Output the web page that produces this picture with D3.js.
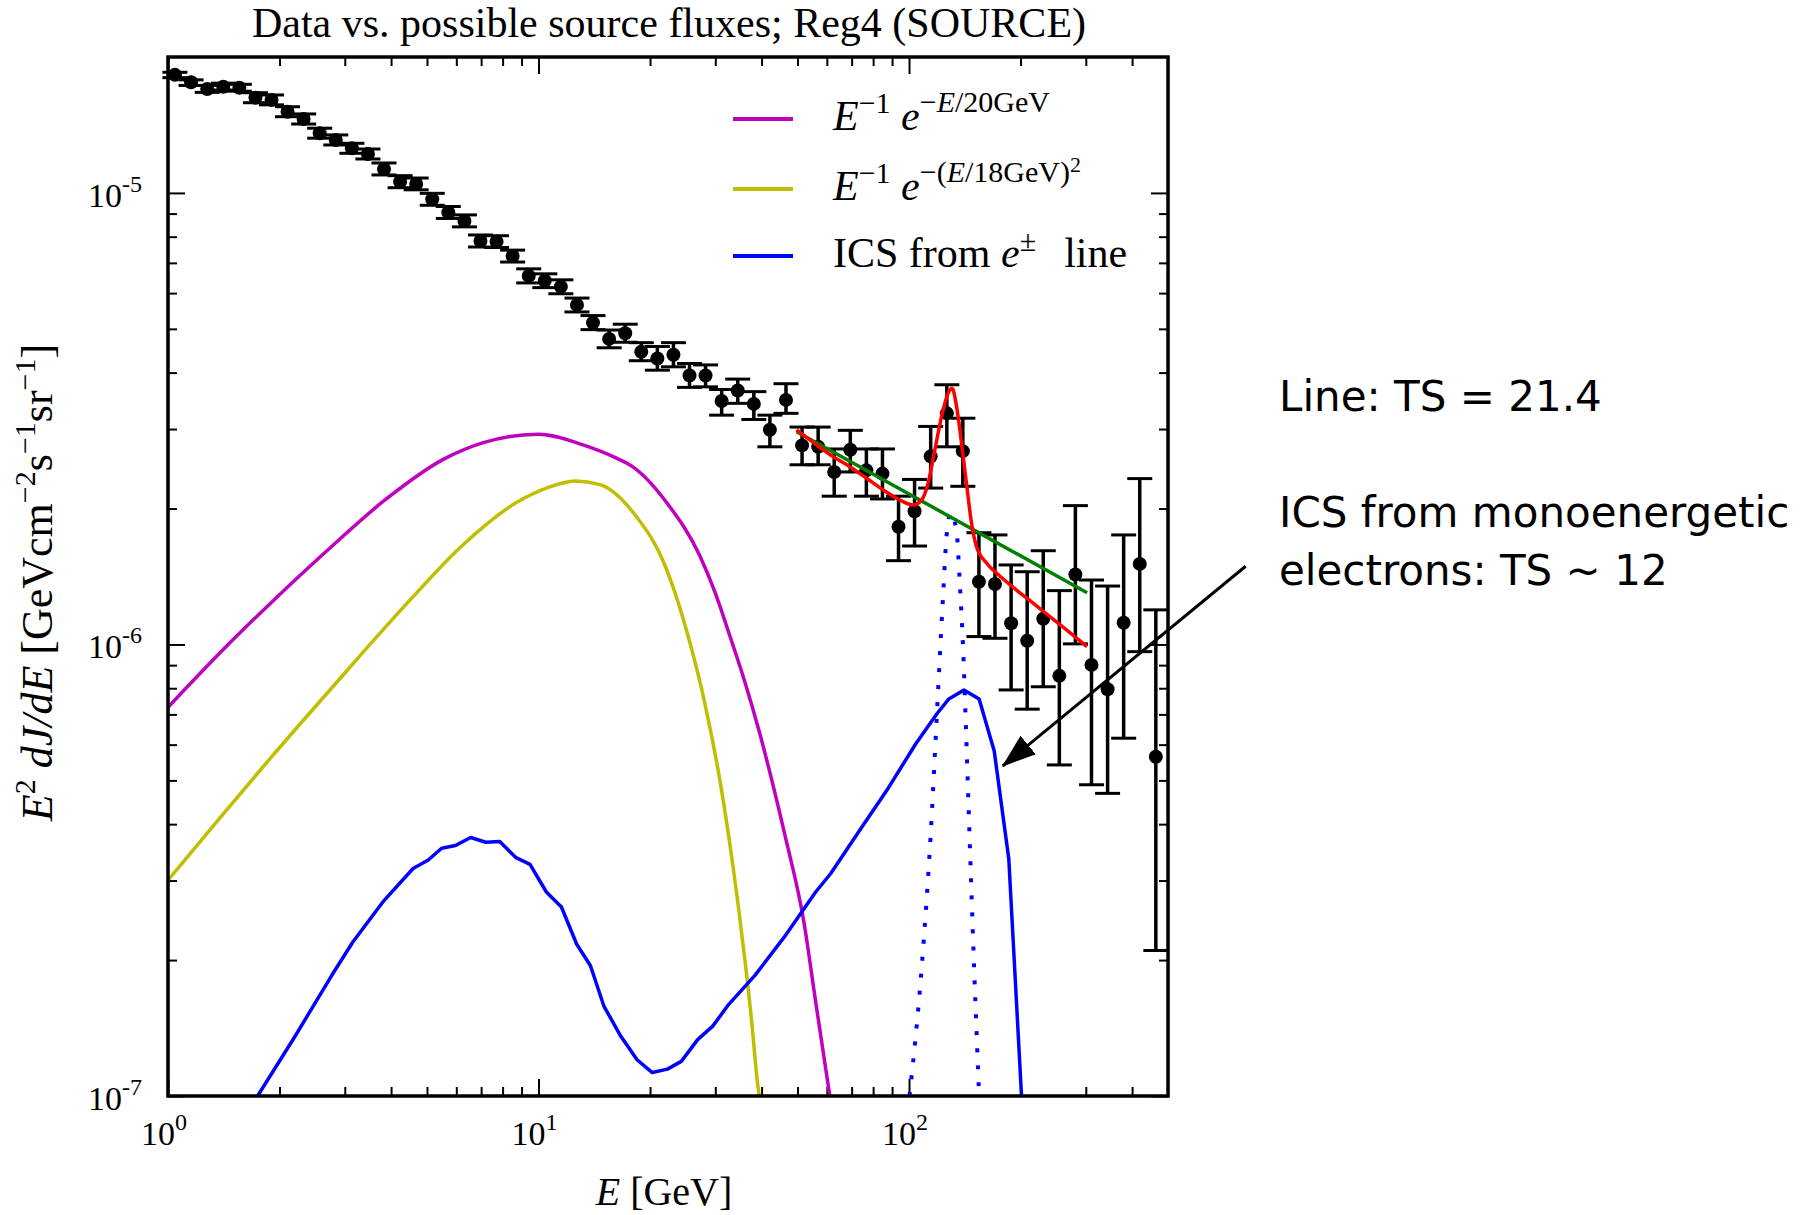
<!DOCTYPE html>
<html>
<head>
<meta charset="utf-8">
<script src="https://cdn.jsdelivr.net/npm/d3@7"></script>
<style>
  body { margin: 0; background: #fff; }
  svg { display: block; }
  .serif { font-family: "Liberation Serif", "Times New Roman", serif; fill: #000; }
  .sans { font-family: "DejaVu Sans", "Open Sans", sans-serif; fill: #000; }
</style>
</head>
<body>
<script>
// ---- data ----
const energy = [1.044, 1.154, 1.276, 1.410, 1.558, 1.722, 1.903, 2.102, 2.323, 2.567, 2.837, 3.135,
  3.464, 3.828, 4.231, 4.675, 5.166, 5.709, 6.310, 6.972, 7.705, 8.514, 9.410, 10.40, 11.49, 12.70,
  14.03, 15.51, 17.14, 18.94, 20.93, 23.13, 25.56, 28.24, 31.21, 34.49, 38.12, 42.12, 46.55, 51.44,
  56.85, 62.82, 69.42, 76.72, 84.78, 93.69, 103.5, 114.4, 126.5, 139.7, 154.4, 170.6, 188.6, 208.4,
  230.3, 254.5, 281.2, 310.8, 343.5, 379.6, 419.5, 463.6];
const flux = [1.826e-5, 1.758e-5, 1.699e-5, 1.719e-5, 1.710e-5, 1.625e-5, 1.607e-5, 1.513e-5, 1.458e-5,
  1.356e-5, 1.310e-5, 1.256e-5, 1.220e-5, 1.130e-5, 1.059e-5, 1.047e-5, 9.68e-6, 9.05e-6, 8.67e-6,
  7.83e-6, 7.80e-6, 7.25e-6, 6.55e-6, 6.39e-6, 6.20e-6, 5.65e-6, 5.16e-6, 4.75e-6, 4.89e-6, 4.45e-6,
  4.30e-6, 4.38e-6, 3.94e-6, 3.94e-6, 3.46e-6, 3.65e-6, 3.41e-6, 2.99e-6, 3.48e-6, 2.76e-6, 2.74e-6,
  2.41e-6, 2.70e-6, 2.43e-6, 2.39e-6, 1.823e-6, 1.972e-6, 2.61e-6, 3.25e-6, 2.68e-6, 1.377e-6,
  1.361e-6, 1.114e-6, 1.019e-6, 1.140e-6, 8.52e-7, 1.429e-6, 9.01e-7, 7.96e-7, 1.117e-6, 1.508e-6, 5.64e-7];
const fluxLo = [1.80e-5, 1.73e-5, 1.67e-5, 1.69e-5, 1.68e-5, 1.584e-5, 1.567e-5, 1.475e-5, 1.421e-5,
  1.322e-5, 1.277e-5, 1.224e-5, 1.189e-5, 1.096e-5, 1.027e-5, 1.016e-5, 9.39e-6, 8.78e-6, 8.41e-6,
  7.59e-6, 7.57e-6, 7.03e-6, 6.32e-6, 6.17e-6, 5.98e-6, 5.45e-6, 4.98e-6, 4.54e-6, 4.67e-6, 4.25e-6,
  4.05e-6, 4.12e-6, 3.71e-6, 3.72e-6, 3.22e-6, 3.42e-6, 3.15e-6, 2.74e-6, 3.25e-6, 2.50e-6, 2.50e-6,
  2.13e-6, 2.41e-6, 2.13e-6, 2.10e-6, 1.533e-6, 1.652e-6, 2.22e-6, 2.74e-6, 2.24e-6, 1.041e-6,
  1.032e-6, 7.93e-7, 7.19e-7, 8.06e-7, 5.41e-7, 1.003e-6, 4.89e-7, 4.68e-7, 6.20e-7, 9.64e-7, 2.10e-7];
const fluxHi = [1.85e-5, 1.78e-5, 1.73e-5, 1.75e-5, 1.74e-5, 1.667e-5, 1.648e-5, 1.552e-5, 1.496e-5,
  1.391e-5, 1.344e-5, 1.288e-5, 1.251e-5, 1.165e-5, 1.092e-5, 1.079e-5, 9.98e-6, 9.33e-6, 8.94e-6,
  8.07e-6, 8.04e-6, 7.47e-6, 6.79e-6, 6.62e-6, 6.42e-6, 5.85e-6, 5.35e-6, 4.97e-6, 5.12e-6, 4.66e-6,
  4.57e-6, 4.66e-6, 4.19e-6, 4.16e-6, 3.67e-6, 3.87e-6, 3.63e-6, 3.22e-6, 3.78e-6, 3.03e-6, 3.03e-6,
  2.71e-6, 2.98e-6, 2.71e-6, 2.71e-6, 2.13e-6, 2.32e-6, 3.04e-6, 3.76e-6, 3.17e-6, 1.768e-6,
  1.748e-6, 1.500e-6, 1.449e-6, 1.613e-6, 1.316e-6, 2.03e-6, 1.389e-6, 1.347e-6, 1.748e-6, 2.33e-6, 1.193e-6];

// E^-1 exp(-E/20GeV)
const magentaE = [1.0, 1.403, 1.932, 2.736, 3.851, 5.533, 7.094, 9.982, 13.18, 16.18, 17.98, 22.21,
  27.27, 29.92, 32.85, 36.06, 39.57, 46.23, 52.03, 56.04, 61.13];
const magentaF = [7.26e-7, 9.71e-7, 1.255e-6, 1.636e-6, 2.089e-6, 2.57e-6, 2.80e-6, 2.922e-6,
  2.767e-6, 2.589e-6, 2.473e-6, 2.058e-6, 1.570e-6, 1.307e-6, 1.044e-6, 8.26e-7, 6.34e-7, 3.785e-7,
  2.429e-7, 1.607e-7, 1.0e-7];

// E^-1 exp(-(E/18GeV)^2)
const yellowE = [1.0, 1.403, 1.895, 2.762, 4.503, 6.145, 8.783, 10.5, 12.56, 14.65, 18.01, 22.21,
  25.62, 28.12, 30.87, 33.45, 36.06, 37.65, 38.85, 39.4];
const yellowF = [3.006e-7, 4.196e-7, 5.614e-7, 8.0e-7, 1.255e-6, 1.64e-6, 2.07e-6, 2.22e-6,
  2.302e-6, 2.26e-6, 1.96e-6, 1.46e-6, 1.01e-6, 7.4e-7, 5.0e-7, 3.25e-7, 2.0e-7, 1.45e-7, 1.1e-7, 1.0e-7];

// ICS from e+- line
const icsE = [1.745, 2.203, 2.762, 3.151, 3.801, 4.587, 5.040, 5.477, 5.970, 6.558, 7.208, 7.859,
  8.698, 9.486, 10.50, 11.53, 12.67, 13.81, 15.01, 16.68, 18.45, 20.28, 22.28, 24.29, 26.89, 29.53,
  32.44, 38.43, 46.03, 50.95, 55.98, 61.48, 74.23, 87.95, 104.1, 118.8, 128.1, 140.7, 154.6, 169.8,
  185.9, 201.2];
const icsF = [1.0e-7, 1.356e-7, 1.846e-7, 2.190e-7, 2.690e-7, 3.191e-7, 3.332e-7, 3.537e-7, 3.586e-7,
  3.736e-7, 3.647e-7, 3.660e-7, 3.371e-7, 3.258e-7, 2.830e-7, 2.622e-7, 2.171e-7, 1.943e-7, 1.582e-7,
  1.356e-7, 1.203e-7, 1.127e-7, 1.147e-7, 1.193e-7, 1.333e-7, 1.428e-7, 1.587e-7, 1.852e-7, 2.248e-7,
  2.532e-7, 2.830e-7, 3.110e-7, 3.918e-7, 4.812e-7, 6.012e-7, 7.015e-7, 7.574e-7, 7.930e-7, 7.574e-7,
  5.808e-7, 3.349e-7, 1.0e-7];

// line component (dotted)
const lineE = [100.3, 108.1, 114.4, 118.8, 123.4, 126.7, 129.7, 134.4, 137.1, 140.0, 142.1, 144.4, 149.9, 154.6];
const lineF = [1.0e-7, 1.91e-7, 3.788e-7, 6.898e-7, 1.255e-6, 1.793e-6, 1.956e-6, 1.778e-6, 1.366e-6,
  9.72e-7, 6.92e-7, 4.68e-7, 1.91e-7, 1.0e-7];

// background + line fit (red) and background only (green)
const fitE = [49.71, 56.29, 62.40, 69.21, 76.80, 85.12, 94.45, 102.6, 108.1, 112.6, 117.4, 122.4, 127.5,
  130.7, 134.4, 138.6, 142.9, 147.5, 152.1, 161.9, 175.8, 195.0, 216.2, 239.9, 266.1, 302.4];
const fitF = [2.986e-6, 2.767e-6, 2.606e-6, 2.476e-6, 2.334e-6, 2.199e-6, 2.089e-6, 2.037e-6, 2.089e-6,
  2.275e-6, 2.697e-6, 3.196e-6, 3.601e-6, 3.693e-6, 3.363e-6, 2.790e-6, 2.275e-6, 1.855e-6, 1.646e-6,
  1.515e-6, 1.418e-6, 1.320e-6, 1.235e-6, 1.153e-6, 1.077e-6, 9.89e-7];
const bkgE = [49.71, 302.4];
const bkgF = [2.960e-6, 1.302e-6];

const xMajor = [1, 10, 100];
const xMinor = [2, 3, 4, 5, 6, 7, 8, 9, 20, 30, 40, 50, 60, 70, 80, 90, 200, 300, 400];
const yMajor = [1e-7, 1e-6, 1e-5];
const yMinor = [2e-7, 3e-7, 4e-7, 5e-7, 6e-7, 7e-7, 8e-7, 9e-7, 2e-6, 3e-6, 4e-6, 5e-6, 6e-6, 7e-6, 8e-6, 9e-6];

// ---- layout ----
const W = 1804, H = 1215;
const pLeft = 168, pRight = 1168, pTop = 57, pBottom = 1096;

const x = d3.scaleLog().domain([1, 500]).range([pLeft, pRight]);
const y = d3.scaleLog().domain([1e-7, 2e-5]).range([pBottom, pTop]);

const svg = d3.select("body").append("svg").attr("width", W).attr("height", H);

svg.append("clipPath").attr("id", "plot")
  .append("rect").attr("x", pLeft).attr("y", pTop)
  .attr("width", pRight - pLeft).attr("height", pBottom - pTop);

// ticks on all four sides, pointing inward
function tickAxis(axis, vals, len, tr) {
  const g = svg.append("g").attr("transform", tr)
    .call(axis.tickValues(vals).tickSize(-len).tickFormat(""));
  g.select(".domain").remove();
  g.selectAll("line").attr("stroke-width", 2);
}
tickAxis(d3.axisBottom(x), xMajor, 17, `translate(0,${pBottom})`);
tickAxis(d3.axisBottom(x), xMinor, 9, `translate(0,${pBottom})`);
tickAxis(d3.axisTop(x), xMajor, 17, `translate(0,${pTop})`);
tickAxis(d3.axisTop(x), xMinor, 9, `translate(0,${pTop})`);
tickAxis(d3.axisLeft(y), yMajor, 17, `translate(${pLeft},0)`);
tickAxis(d3.axisLeft(y), yMinor, 9, `translate(${pLeft},0)`);
tickAxis(d3.axisRight(y), yMajor, 17, `translate(${pRight},0)`);
tickAxis(d3.axisRight(y), yMinor, 9, `translate(${pRight},0)`);

// tick labels with superscript exponents
svg.append("g").selectAll("text").data(xMajor).join("text")
  .attr("class", "serif").attr("font-size", 34)
  .attr("text-anchor", "middle")
  .attr("x", d => x(d) - 4).attr("y", pBottom + 49)
  .html(d => `10<tspan font-size="24" dy="-15">${Math.round(Math.log10(d))}</tspan>`);

svg.append("g").selectAll("text").data(yMajor).join("text")
  .attr("class", "serif").attr("font-size", 34)
  .attr("text-anchor", "end")
  .attr("x", pLeft - 26).attr("y", d => y(d) + 14)
  .html(d => `10<tspan font-size="24" dy="-15">-${Math.round(-Math.log10(d))}</tspan>`);

// ---- data points with asymmetric error bars ----
const pts = energy.map((e, i) => ({ e, f: flux[i], lo: fluxLo[i], hi: fluxHi[i] }));
const capW = 12.5;
const eb = svg.append("g").attr("stroke", "#000");
eb.selectAll("line.bar").data(pts).join("line").attr("class", "bar")
  .attr("x1", d => x(d.e)).attr("x2", d => x(d.e))
  .attr("y1", d => y(d.lo)).attr("y2", d => y(d.hi))
  .attr("stroke-width", 3.5);
eb.selectAll("line.capHi").data(pts).join("line").attr("class", "capHi")
  .attr("x1", d => x(d.e) - capW).attr("x2", d => x(d.e) + capW)
  .attr("y1", d => y(d.hi)).attr("y2", d => y(d.hi))
  .attr("stroke-width", 3);
eb.selectAll("line.capLo").data(pts).join("line").attr("class", "capLo")
  .attr("x1", d => x(d.e) - capW).attr("x2", d => x(d.e) + capW)
  .attr("y1", d => y(d.lo)).attr("y2", d => y(d.lo))
  .attr("stroke-width", 3);
svg.append("g").selectAll("circle").data(pts).join("circle")
  .attr("cx", d => x(d.e)).attr("cy", d => y(d.f)).attr("r", 7)
  .attr("fill", "#000");

// ---- model curves ----
const curves = svg.append("g").attr("clip-path", "url(#plot)").attr("fill", "none");
function drawCurve(es, fs, color, curve, dash) {
  const line = d3.line().x(d => x(d[0])).y(d => y(d[1])).curve(curve);
  const p = curves.append("path")
    .attr("d", line(es.map((e, i) => [e, fs[i]])))
    .attr("stroke", color).attr("stroke-width", 3.5)
    .attr("stroke-linejoin", "round");
  if (dash) p.attr("stroke-dasharray", dash).attr("stroke-width", 4);
}
drawCurve(magentaE, magentaF, "#bf00bf", d3.curveMonotoneX);
drawCurve(yellowE, yellowF, "#bfbf00", d3.curveMonotoneX);
drawCurve(icsE, icsF, "#0000ff", d3.curveLinear);
drawCurve(lineE, lineF, "#0000ff", d3.curveMonotoneX, "4,13");
drawCurve(bkgE, bkgF, "#008000", d3.curveLinear);
drawCurve(fitE, fitF, "#ff0000", d3.curveMonotoneX);

// frame
svg.append("rect").attr("x", pLeft).attr("y", pTop)
  .attr("width", pRight - pLeft).attr("height", pBottom - pTop)
  .attr("fill", "none").attr("stroke", "#000").attr("stroke-width", 3.5);

// ---- legend ----
const legend = [
  { color: "#bf00bf",
    label: `<tspan font-style="italic">E</tspan><tspan font-size="30" dy="-17">−1</tspan><tspan dy="17"> </tspan><tspan font-style="italic">e</tspan><tspan font-size="30" dy="-18">−<tspan font-style="italic">E</tspan>/20GeV</tspan>` },
  { color: "#bfbf00",
    label: `<tspan font-style="italic">E</tspan><tspan font-size="30" dy="-17">−1</tspan><tspan dy="17"> </tspan><tspan font-style="italic">e</tspan><tspan font-size="30" dy="-18">−(<tspan font-style="italic">E</tspan>/18GeV)</tspan><tspan font-size="22" dy="-10">2</tspan>` },
  { color: "#0000ff",
    label: `ICS from <tspan font-style="italic">e</tspan><tspan font-size="30" dy="-16">±</tspan><tspan dy="16" dx="28">line</tspan>` }
];
const legY = [119, 189, 256];
const lg = svg.append("g");
lg.selectAll("line").data(legend).join("line")
  .attr("x1", 733).attr("x2", 793)
  .attr("y1", (d, i) => legY[i]).attr("y2", (d, i) => legY[i])
  .attr("stroke", d => d.color).attr("stroke-width", 4);
lg.selectAll("text").data(legend).join("text")
  .attr("class", "serif").attr("font-size", 42)
  .attr("x", 833).attr("y", (d, i) => legY[i] + 11)
  .html(d => d.label);

// ---- titles ----
svg.append("text").attr("class", "serif").attr("font-size", 42)
  .attr("text-anchor", "middle").attr("x", (pLeft + pRight) / 2 + 1).attr("y", 37)
  .text("Data vs. possible source fluxes; Reg4 (SOURCE)");

svg.append("text").attr("class", "serif").attr("font-size", 40)
  .attr("text-anchor", "middle").attr("x", (pLeft + pRight) / 2 - 4).attr("y", 1205)
  .html(`<tspan font-style="italic">E</tspan> [GeV]`);

svg.append("text").attr("class", "serif").attr("font-size", 44)
  .attr("text-anchor", "middle")
  .attr("transform", `translate(52,${(pTop + pBottom) / 2 + 6}) rotate(-90)`)
  .html(`<tspan font-style="italic">E</tspan><tspan font-size="30" dy="-17">2</tspan><tspan dy="17"> </tspan><tspan font-style="italic">dJ/dE</tspan> [GeVcm<tspan font-size="30" dy="-17">−2</tspan><tspan dy="17">s</tspan><tspan font-size="30" dy="-17">−1</tspan><tspan dy="17">sr</tspan><tspan font-size="30" dy="-17">−1</tspan><tspan dy="17">]</tspan>`);

// ---- annotations ----
const notes = [
  { text: "Line: TS = 21.4", y: 411 },
  { text: "ICS from monoenergetic", y: 527 },
  { text: "electrons: TS ~ 12", y: 585 }
];
svg.append("g").selectAll("text").data(notes).join("text")
  .attr("class", "sans").attr("font-size", 42)
  .attr("x", 1279).attr("y", d => d.y)
  .text(d => d.text);

svg.append("defs").append("marker")
  .attr("id", "head").attr("viewBox", "0 0 34 24")
  .attr("refX", 33).attr("refY", 12)
  .attr("markerWidth", 34).attr("markerHeight", 24)
  .attr("markerUnits", "userSpaceOnUse").attr("orient", "auto")
  .append("path").attr("d", "M0,0 L34,12 L0,24 Z").attr("fill", "#000");

// arrow from the text toward the ICS peak (data coordinates)
const arrowFrom = [810, 1.49e-6], arrowTo = [179, 5.38e-7];
svg.append("line")
  .attr("x1", x(arrowFrom[0])).attr("y1", y(arrowFrom[1]))
  .attr("x2", x(arrowTo[0])).attr("y2", y(arrowTo[1]))
  .attr("stroke", "#000").attr("stroke-width", 3)
  .attr("marker-end", "url(#head)");
</script>
</body>
</html>
